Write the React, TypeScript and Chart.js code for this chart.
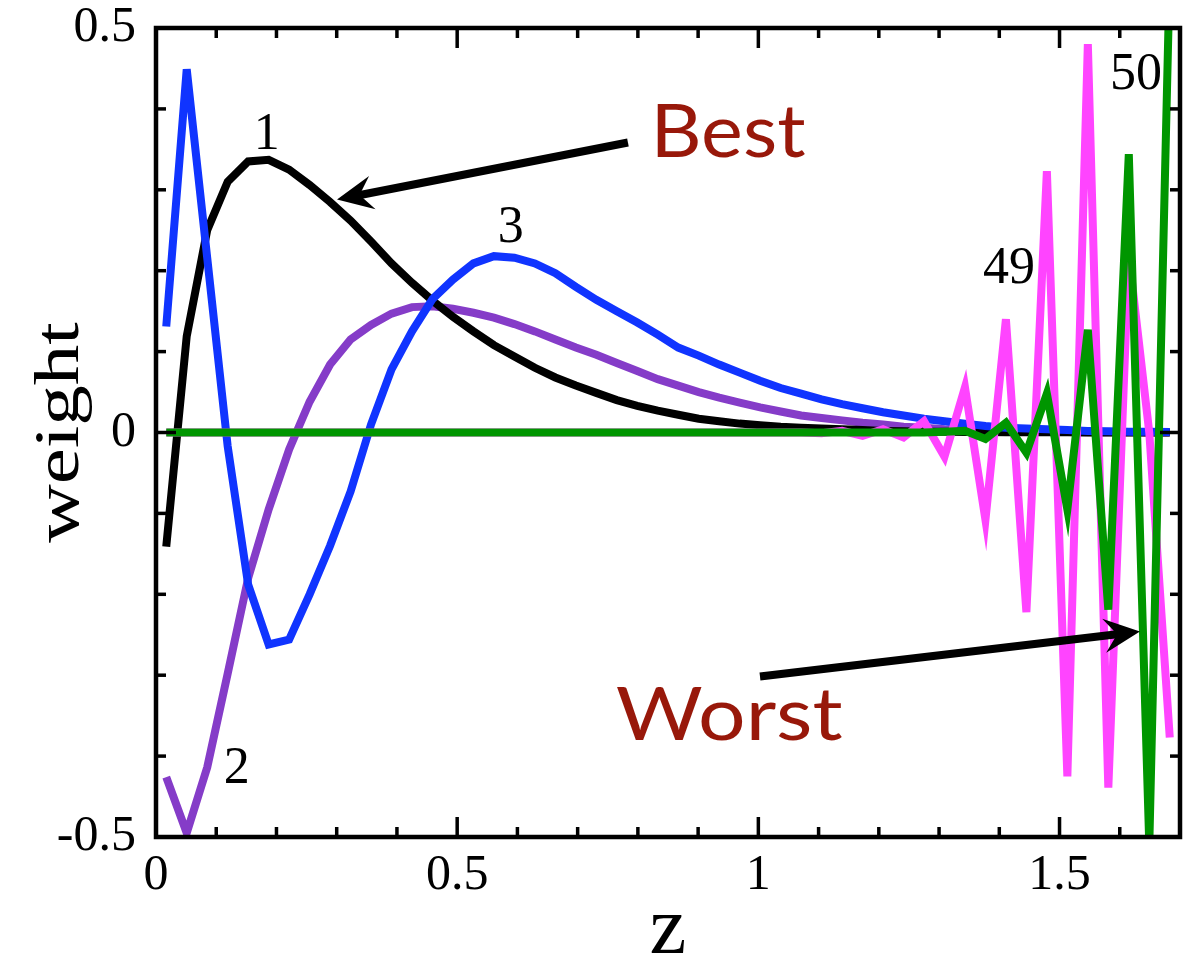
import React, { useEffect, useRef } from 'react';
import { Chart, registerables } from 'chart.js';

Chart.register(...registerables);

// ---- data ----
const zBins = [
  0.017, 0.051, 0.085, 0.119, 0.153, 0.187, 0.221, 0.255, 0.289, 0.323,
  0.357, 0.391, 0.425, 0.459, 0.493, 0.527, 0.561, 0.595, 0.629, 0.663,
  0.697, 0.731, 0.765, 0.799, 0.833, 0.867, 0.901, 0.935, 0.969, 1.003,
  1.037, 1.071, 1.105, 1.139, 1.173, 1.207, 1.241, 1.275, 1.309, 1.343,
  1.377, 1.411, 1.445, 1.479, 1.513, 1.547, 1.581, 1.615, 1.649, 1.683,
];

const mode1 = [
  -0.141, 0.119, 0.25, 0.31, 0.335, 0.337, 0.325, 0.306, 0.285, 0.262,
  0.236, 0.209, 0.185, 0.163, 0.143, 0.125, 0.108, 0.094, 0.08, 0.068,
  0.058, 0.049, 0.04, 0.033, 0.027, 0.022, 0.017, 0.014, 0.011, 0.009,
  0.007, 0.006, 0.005, 0.004, 0.003, 0.002, 0.0015, 0.001, 0.0008, 0.0006,
  0.0005, 0.0004, 0.0003, 0.0002, 0.0002, 0.0001, 0.0001, 0.0001, 0, 0,
];

const mode2 = [
  -0.426, -0.495, -0.414, -0.298, -0.18, -0.095, -0.021, 0.038, 0.084, 0.115,
  0.133, 0.147, 0.155, 0.156, 0.153, 0.148, 0.142, 0.134, 0.125, 0.115,
  0.105, 0.096, 0.086, 0.076, 0.066, 0.058, 0.05, 0.043, 0.037, 0.031,
  0.026, 0.021, 0.018, 0.015, 0.012, 0.01, 0.007, 0.006, 0.004, 0.003,
  0.002, 0.0015, 0.001, 0.0008, 0.0006, 0.0004, 0.0003, 0.0002, 0.0001, 0.0001,
];

const mode3 = [
  0.131, 0.449, 0.216, -0.017, -0.188, -0.262, -0.256, -0.2, -0.14, -0.073,
  0.01, 0.078, 0.125, 0.165, 0.189, 0.209, 0.218, 0.216, 0.209, 0.197,
  0.18, 0.164, 0.15, 0.136, 0.121, 0.105, 0.095, 0.084, 0.074, 0.064,
  0.055, 0.048, 0.041, 0.035, 0.03, 0.025, 0.021, 0.017, 0.014, 0.011,
  0.008, 0.006, 0.005, 0.004, 0.003, 0.002, 0.0015, 0.001, 0.001, 0.0005,
];

const mode49 = [
  0, 0, 0, 0, 0, 0, 0, 0, 0, 0,
  0, 0, 0, 0, 0, 0, 0, 0, 0, 0,
  0, 0, 0, 0, 0, 0, 0, 0, 0, 0,
  0, 0, -0.001, 0.002, -0.004, 0.004, -0.006, 0.014, -0.03, 0.056,
  -0.108, 0.14, -0.222, 0.323, -0.425, 0.48, -0.439, 0.22, 0.0, -0.377,
];

const mode50 = [
  0, 0, 0, 0, 0, 0, 0, 0, 0, 0,
  0, 0, 0, 0, 0, 0, 0, 0, 0, 0,
  0, 0, 0, 0, 0, 0, 0, 0, 0, 0,
  0, 0, 0, 0, 0, 0, 0, 0, 0.001, 0.002,
  -0.008, 0.012, -0.025, 0.048, -0.095, 0.127, -0.219, 0.344, -0.51, 0.57,
];

const xMajorValues = [0, 0.5, 1, 1.5];
const xMajorLabels = ['0', '0.5', '1', '1.5'];
const yMajorValues = [-0.5, 0, 0.5];
const yMajorLabels = ['-0.5', '0', '0.5'];

const xTitle = 'z';
const yTitle = 'weight';

// annotation texts (anchored in data coordinates)
const modeLabels = ['1', '2', '3', '49', '50'];
const modeLabelX = [0.184, 0.134, 0.589, 1.416, 1.627];
const modeLabelY = [0.35, -0.433, 0.235, 0.185, 0.424];

const calloutTexts = ['Best', 'Worst'];
const calloutX = [0.9545, 0.952];
const calloutY = [0.34, -0.3795];
const calloutInkWidth = [148, 225];

const arrowFrom = [
  [0.7835, 0.3585],
  [1.0027, -0.3016],
];
const arrowTo = [
  [0.3005, 0.288],
  [1.6335, -0.246],
];

const SERIF = '"Liberation Serif", "Times New Roman", serif';
const SANS = 'Lato, "Open Sans", sans-serif';

function findMajor(v: number, list: number[]) {
  for (let i = 0; i < list.length; i++) if (Math.abs(v - list[i]) < 1e-6) return i;
  return -1;
}

const framePlugin = {
  id: 'frameTicks',
  afterDatasetsDraw(chart: any) {
    const { ctx, chartArea: a, scales } = chart;
    ctx.save();
    ctx.strokeStyle = '#000';
    ctx.lineWidth = 3.5;
    ctx.lineCap = 'butt';
    const seg = (x1: number, y1: number, x2: number, y2: number) => {
      ctx.beginPath();
      ctx.moveTo(x1, y1);
      ctx.lineTo(x2, y2);
      ctx.stroke();
    };
    for (const t of scales.x.ticks) {
      const px = scales.x.getPixelForValue(t.value);
      if (px <= a.left + 2 || px >= a.right - 2) continue;
      const len = findMajor(t.value, xMajorValues) >= 0 ? 20 : 10;
      seg(px, a.bottom, px, a.bottom - len);
      seg(px, a.top, px, a.top + len);
    }
    for (const t of scales.y.ticks) {
      const py = scales.y.getPixelForValue(t.value);
      if (py <= a.top + 2 || py >= a.bottom - 2) continue;
      const len = findMajor(t.value, yMajorValues) >= 0 ? 20 : 10;
      seg(a.left, py, a.left + len, py);
      seg(a.right, py, a.right - len, py);
    }
    ctx.lineWidth = 4.5;
    ctx.strokeRect(a.left, a.top, a.right - a.left, a.bottom - a.top);
    ctx.restore();
  },
};

function drawArrow(ctx: CanvasRenderingContext2D, x1: number, y1: number, x2: number, y2: number) {
  const dx = x2 - x1;
  const dy = y2 - y1;
  const L = Math.hypot(dx, dy);
  const ux = dx / L;
  const uy = dy / L;
  const nx = -uy;
  const ny = ux;
  const headLen = 36;
  const halfW = 17;
  const notch = 23;
  ctx.save();
  ctx.strokeStyle = '#000';
  ctx.fillStyle = '#000';
  ctx.lineWidth = 8;
  ctx.lineCap = 'butt';
  ctx.beginPath();
  ctx.moveTo(x1, y1);
  ctx.lineTo(x2 - ux * (notch - 2), y2 - uy * (notch - 2));
  ctx.stroke();
  ctx.beginPath();
  ctx.moveTo(x2, y2);
  ctx.lineTo(x2 - ux * headLen + nx * halfW, y2 - uy * headLen + ny * halfW);
  ctx.lineTo(x2 - ux * notch, y2 - uy * notch);
  ctx.lineTo(x2 - ux * headLen - nx * halfW, y2 - uy * headLen - ny * halfW);
  ctx.closePath();
  ctx.fill();
  ctx.restore();
}

const annotationPlugin = {
  id: 'annotations',
  afterDraw(chart: any) {
    const { ctx, chartArea: a, scales } = chart;
    const X = (v: number) => scales.x.getPixelForValue(v);
    const Y = (v: number) => scales.y.getPixelForValue(v);

    for (let i = 0; i < arrowFrom.length; i++) {
      drawArrow(ctx, X(arrowFrom[i][0]), Y(arrowFrom[i][1]), X(arrowTo[i][0]), Y(arrowTo[i][1]));
    }

    ctx.save();
    ctx.fillStyle = '#000';
    ctx.font = `52px ${SERIF}`;
    ctx.textAlign = 'center';
    ctx.textBaseline = 'alphabetic';
    for (let i = 0; i < modeLabels.length; i++) {
      ctx.fillText(modeLabels[i], X(modeLabelX[i]), Y(modeLabelY[i]));
    }
    ctx.restore();

    for (let i = 0; i < calloutTexts.length; i++) {
      ctx.save();
      ctx.fillStyle = '#98180A';
      ctx.font = `74px ${SANS}`;
      ctx.textAlign = 'left';
      ctx.textBaseline = 'alphabetic';
      const m = ctx.measureText(calloutTexts[i]);
      const ink = m.actualBoundingBoxLeft + m.actualBoundingBoxRight;
      const sx = calloutInkWidth[i] / ink;
      const cx = X(calloutX[i]);
      ctx.translate(cx - calloutInkWidth[i] / 2, Y(calloutY[i]));
      ctx.scale(sx, 1);
      ctx.fillText(calloutTexts[i], m.actualBoundingBoxLeft, 0);
      ctx.restore();
    }

    ctx.save();
    ctx.fillStyle = '#000';
    ctx.font = `83px ${SERIF}`;
    ctx.textAlign = 'center';
    ctx.textBaseline = 'alphabetic';
    ctx.fillText(xTitle, (a.left + a.right) / 2, chart.height - 3);
    ctx.restore();

    ctx.save();
    ctx.fillStyle = '#000';
    ctx.translate(78, (a.top + a.bottom) / 2);
    ctx.rotate(-Math.PI / 2);
    ctx.scale(1, 0.78);
    ctx.font = `81px ${SERIF}`;
    ctx.textAlign = 'center';
    ctx.textBaseline = 'alphabetic';
    ctx.fillText(yTitle, 0, 0);
    ctx.restore();
  },
};

export default function App() {
  const canvasRef = useRef<HTMLCanvasElement | null>(null);

  useEffect(() => {
    const canvas = canvasRef.current;
    if (!canvas) return;
    const mk = (vals: number[]) => zBins.map((z, i) => ({ x: z, y: vals[i] }));
    const common = {
      borderWidth: 8,
      pointRadius: 0,
      pointHoverRadius: 0,
      tension: 0,
      fill: false,
      borderJoinStyle: 'miter' as const,
    };
    const chart = new Chart(canvas, {
      type: 'line',
      data: {
        datasets: [
          { ...common, label: '50', data: mk(mode50), borderColor: '#009600' },
          { ...common, label: '49', data: mk(mode49), borderColor: '#FF44FF' },
          { ...common, label: '3', data: mk(mode3), borderColor: '#1034FF' },
          { ...common, label: '1', data: mk(mode1), borderColor: '#000000' },
          { ...common, label: '2', data: mk(mode2), borderColor: '#853CC8' },
        ],
      },
      options: {
        animation: false,
        responsive: false,
        devicePixelRatio: 1,
        events: [],
        layout: { padding: { top: 28, right: 9, left: 0, bottom: 0 } },
        plugins: {
          legend: { display: false },
          tooltip: { enabled: false },
          title: { display: false },
        },
        scales: {
          x: {
            type: 'linear',
            position: 'bottom',
            min: 0,
            max: 1.7,
            afterFit: (s: any) => {
              s.height = 119;
              s.paddingLeft = 0;
              s.paddingRight = 0;
            },
            grid: { display: false, drawTicks: false },
            border: { display: false },
            ticks: {
              stepSize: 0.1,
              autoSkip: false,
              maxRotation: 0,
              padding: 14,
              color: '#000',
              font: { family: SERIF, size: 50, lineHeight: 1 },
              callback: (v: any) => {
                const i = findMajor(Number(v), xMajorValues);
                return i >= 0 ? xMajorLabels[i] : '';
              },
            },
          },
          y: {
            type: 'linear',
            min: -0.5,
            max: 0.5,
            afterFit: (s: any) => {
              s.width = 156;
              s.paddingTop = 0;
              s.paddingBottom = 0;
            },
            grid: { display: false, drawTicks: false },
            border: { display: false },
            ticks: {
              stepSize: 0.1,
              autoSkip: false,
              padding: 20,
              color: '#000',
              font: { family: SERIF, size: 50, lineHeight: 1 },
              callback: (v: any) => {
                const i = findMajor(Number(v), yMajorValues);
                return i >= 0 ? yMajorLabels[i] : '';
              },
            },
          },
        },
      },
      plugins: [framePlugin, annotationPlugin],
    });
    return () => chart.destroy();
  }, []);

  return (
    <div style={{ position: 'absolute', left: 0, top: 0, width: 1189, height: 956, background: '#fff' }}>
      <canvas ref={canvasRef} width={1189} height={956} style={{ width: 1189, height: 956, display: 'block' }} />
    </div>
  );
}
